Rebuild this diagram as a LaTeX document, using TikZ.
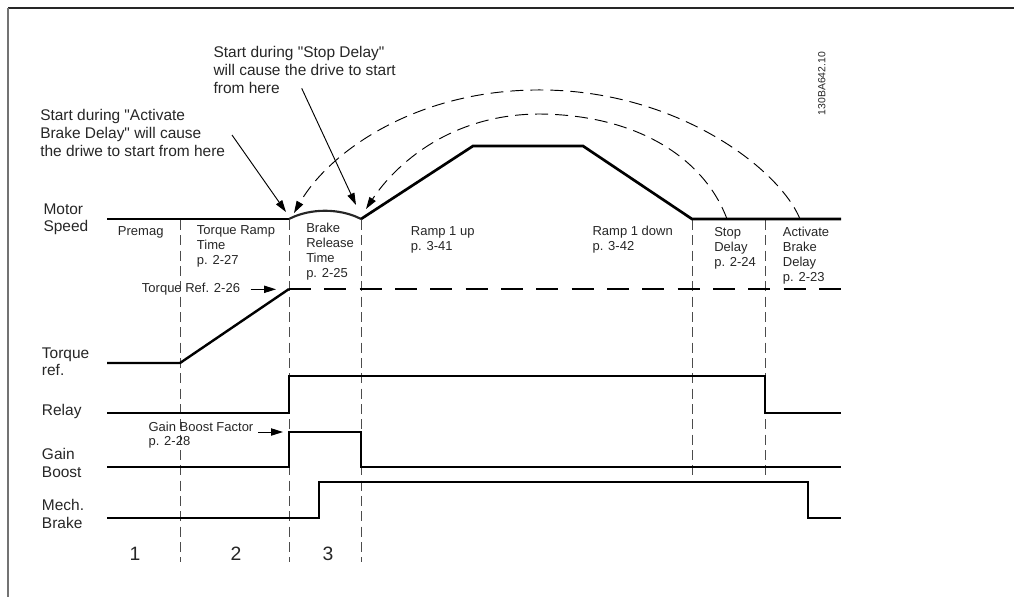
\documentclass[tikz,border=0pt]{standalone}
\usepackage{fontspec}
\setmainfont{Liberation Sans}[Ligatures=TeXOff]
\usetikzlibrary{arrows.meta}
\begin{document}
\begin{tikzpicture}[x=0.75pt,y=-0.75pt,
  lab/.style={anchor=west,inner sep=0pt,align=left,text=black!85},
  big/.style={font=\fontsize{11.6}{13.6}\selectfont},
  side/.style={font=\fontsize{11.6}{12.9}\selectfont},
  mid/.style={font=\fontsize{9.75}{11.25}\selectfont},
  small/.style={font=\fontsize{9.75}{10}\selectfont},
  num/.style={font=\fontsize{14.5}{16}\selectfont,anchor=center,inner sep=0pt,text=black!85},
  speed/.style={line width=2pt,line join=miter},
  wave/.style={line width=1.5pt,line join=miter},
  phase/.style={line width=0.6pt,black!70,dash pattern=on 7.5pt off 4pt},
  refdash/.style={line width=2.2pt,dash pattern=on 16.5pt off 10pt},
  arcline/.style={line width=0.7pt,dash pattern=on 9.75pt off 5.25pt,-{Triangle[length=9pt,width=5.5pt]}},
  pointer/.style={line width=0.7pt,-{Triangle[length=9pt,width=5.5pt]}},
]
\useasboundingbox (0,0) rectangle (1014,597);
% frame
\draw[line width=1pt,black!85] (8,8) -- (1014,8);
\draw[line width=1.5pt,black!55] (8,8) -- (8,597);

% phase boundaries
\coordinate (pA) at (180,220);
\coordinate (pB) at (289,220);
\coordinate (pC) at (361,220);
\coordinate (pD) at (692,220);
\coordinate (pE) at (765,220);
\draw[phase] (pA) -- (180,562);
\draw[phase] (pB) -- (289,562);
\draw[phase] (pC) -- (361,562);
\draw[phase] (pD) -- (692,476);
\draw[phase] (pE) -- (765,476);

% motor speed
\coordinate (m0) at (107,219);
\coordinate (m1) at (289,219);
\coordinate (m2) at (361,219);
\coordinate (m3) at (473,146);
\coordinate (m4) at (583,146);
\coordinate (m5) at (692,219);
\coordinate (m6) at (841,219);
\draw[speed] (m0) -- (m1);
\draw[line width=1.6pt,black!85] (m1) .. controls (310,208) and (340,208) .. (m2);
\draw[speed] (m2) -- (m3) -- (m4) -- (m5) -- (m6);

% torque reference
\coordinate (t0) at (107,363);
\coordinate (t1) at (180,363);
\coordinate (t2) at (289,289);
\coordinate (t3) at (841,289);
\draw[line width=1.8pt,line join=miter] (t0) -- (t1) -- (t2);
\draw[refdash] (t2) -- (t3);

% relay
\draw[wave] (107,413) -- (289,413) -- (289,376) -- (765,376) -- (765,413) -- (841,413);
% gain boost
\draw[wave] (107,467) -- (289,467) -- (289,432) -- (361,432) -- (361,467) -- (841,467);
% mechanical brake
\draw[wave] (107,518) -- (319,518) -- (319,482) -- (808,482) -- (808,518) -- (841,518);

% restart arcs
\coordinate (aoS) at (800,219);
\coordinate (aoP) at (545,90);
\coordinate (aoE) at (294,213);
\coordinate (aiS) at (727,219);
\coordinate (aiP) at (540,114);
\coordinate (aiE) at (366,209);
\draw[arcline] (aoS) .. controls (780,170) and (680,92) .. (aoP) .. controls (420,88) and (330,150) .. (aoE);
\draw[arcline] (aiS) .. controls (705,160) and (640,115) .. (aiP) .. controls (450,114) and (395,165) .. (aiE);

% left labels
\node[lab,side] (lmotor) at (43.3,219) {Motor\\Speed};
\node[lab,side] (ltorque) at (41.7,362) {Torque\\ref.};
\node[lab,side] (lrelay) at (41.7,411) {Relay};
\node[lab,side] (lgain) at (41.7,463) {Gain\\Boost};
\node[lab,side] (lmech) at (41.7,514) {Mech.\\Brake};

% phase labels
\node[lab,mid] (sprem) at (117.7,232.3) {Premag};
\node[lab,mid] (sramp) at (196.7,246.7) {Torque Ramp\\Time\\p. 2-27};
\node[lab,mid] (sbrake) at (306,251.5) {Brake\\Release\\Time\\p. 2-25};
\node[lab,mid] (sup) at (410.7,239.8) {Ramp 1 up\\p. 3-41};
\node[lab,mid] (sdown) at (592.3,239.8) {Ramp 1 down\\p. 3-42};
\node[lab,mid] (sstop) at (714,248.3) {Stop\\Delay\\p. 2-24};
\node[lab,mid] (sact) at (782.7,255.3) {Activate\\Brake\\Delay\\p. 2-23};

% torque ref / gain boost pointers
\node[lab,mid] (tref) at (141.7,289.3) {Torque Ref. 2-26};
\coordinate (trefA) at (250.7,289.3);
\coordinate (trefB) at (276,289.3);
\draw[pointer] (trefA) -- (trefB);
\node[lab,small] (gbf) at (148.3,435) {Gain Boost Factor\\p. 2-28};
\coordinate (gbfA) at (258.3,432);
\coordinate (gbfB) at (283,432);
\draw[pointer] (gbfA) -- (gbfB);

% annotations
\node[lab,big] (nact) at (40,133) {Start during "Activate\\Brake Delay" will cause\\the driwe to start from here};
\node[lab,big] (nstop) at (213.3,70) {Start during "Stop Delay"\\will cause the drive to start\\from here};
\coordinate (nactA) at (232,135);
\coordinate (nactB) at (286,212);
\coordinate (nstopA) at (301.7,88.3);
\coordinate (nstopB) at (356,205);
\draw[pointer] (nactA) -- (nactB);
\draw[pointer] (nstopA) -- (nstopB);

% phase numbers
\node[num] (n1) at (135,554) {1};
\node[num] (n2) at (236,554) {2};
\node[num] (n3) at (328,554) {3};

% drawing id
\node[inner sep=0pt,rotate=90,font=\fontsize{7.8}{9}\selectfont,text=black!85] (id) at (821.7,83.5) {130BA642.10};
\end{tikzpicture}
\end{document}
